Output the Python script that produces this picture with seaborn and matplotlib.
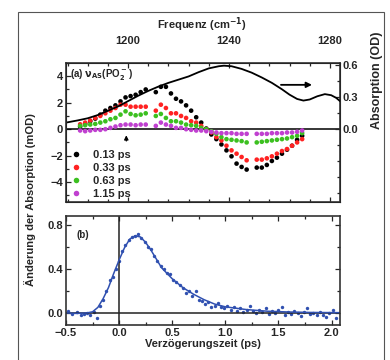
"""Transient IR spectra (a) and kinetics trace (b), Verzoegerungszeit plot."""

import numpy as np
import pandas as pd
import matplotlib
matplotlib.use("Agg")
import matplotlib.pyplot as plt
from matplotlib.ticker import MultipleLocator
from matplotlib.patches import Rectangle
import seaborn as sns

# --- panel (a): transient spectra, mOD ---
freq = [1181, 1183, 1185, 1187, 1189, 1191, 1193, 1195, 1197, 1199, 1201, 1203, 1205, 1207,
        1211, 1213, 1215, 1217, 1219, 1221, 1223, 1225, 1227, 1229, 1231, 1233, 1235, 1237,
        1239, 1241, 1243, 1245, 1247,
        1251, 1253, 1255, 1257, 1259, 1261, 1263, 1265, 1267, 1269]

dA_013 = [0.2, 0.4, 0.6, 0.8, 1.1, 1.4, 1.6, 1.8, 2.1, 2.4, 2.5, 2.6, 2.8, 3.0,
          2.8, 3.2, 3.2, 2.7, 2.3, 2.1, 1.8, 1.4, 0.9, 0.5, 0.05, -0.4, -0.75, -1.15,
          -1.6, -2.05, -2.6, -2.85, -3.05,
          -2.9, -2.9, -2.7, -2.4, -2.15, -1.85, -1.55, -1.25, -0.8, -0.5]
dA_033 = [0.37, 0.5, 0.65, 0.85, 1.0, 1.2, 1.4, 1.6, 1.85, 1.85, 1.7, 1.7, 1.7, 1.7,
          1.4, 1.85, 1.6, 1.2, 1.2, 1.0, 0.85, 0.6, 0.5, 0.25, 0.0, -0.25, -0.6, -0.85,
          -1.25, -1.6, -1.85, -2.1, -2.35,
          -2.3, -2.3, -2.2, -2.05, -1.85, -1.65, -1.5, -1.25, -1.0, -0.75]
dA_063 = [0.25, 0.3, 0.35, 0.4, 0.5, 0.6, 0.75, 0.85, 1.1, 1.35, 1.15, 1.05, 1.1, 1.2,
          1.0, 1.15, 0.85, 0.6, 0.6, 0.5, 0.35, 0.3, 0.25, 0.1, 0.0, -0.15, -0.35, -0.6,
          -0.75, -0.8, -0.85, -0.9, -1.0,
          -1.0, -0.95, -0.9, -0.85, -0.8, -0.75, -0.7, -0.6, -0.5, -0.3]
dA_115 = [-0.1, -0.15, -0.1, -0.05, -0.05, 0.0, 0.1, 0.2, 0.3, 0.35, 0.35, 0.3, 0.35, 0.35,
          0.25, 0.5, 0.35, 0.25, 0.1, 0.1, 0.0, -0.05, -0.1, -0.1, -0.15, -0.2, -0.25, -0.3,
          -0.3, -0.3, -0.35, -0.35, -0.35,
          -0.35, -0.35, -0.35, -0.3, -0.3, -0.3, -0.25, -0.25, -0.2, -0.1]
delays = ["0.13 ps", "0.33 ps", "0.63 ps", "1.15 ps"]
delay_colors = ["black", "#ff2222", "#3cc020", "#c040d0"]

# stationary absorption spectrum (OD, right axis)
abs_freq = [1175.5, 1180, 1184, 1188, 1192, 1196, 1200, 1204, 1208, 1212, 1216, 1220,
            1224, 1228, 1232, 1236, 1238, 1241, 1245, 1249, 1253, 1257, 1261, 1264,
            1267, 1269.5, 1272, 1275, 1278, 1280.5, 1282.5, 1284]
abs_od = [0.06, 0.08, 0.10, 0.13, 0.17, 0.21, 0.26, 0.31, 0.355, 0.395, 0.43, 0.46,
          0.49, 0.53, 0.565, 0.585, 0.59, 0.585, 0.56, 0.525, 0.48, 0.43, 0.37, 0.32,
          0.28, 0.265, 0.275, 0.305, 0.325, 0.315, 0.29, 0.26]

# --- panel (b): kinetics ---
t_ps = [-0.48, -0.44, -0.40, -0.36, -0.33, -0.30, -0.27, -0.24, -0.21, -0.18, -0.15, -0.12,
        -0.09, -0.06, -0.03, 0.00, 0.03, 0.06, 0.09, 0.12, 0.15, 0.18, 0.21, 0.24, 0.27,
        0.30, 0.33, 0.36, 0.39, 0.42, 0.45, 0.48, 0.51, 0.54, 0.57, 0.60, 0.63, 0.66, 0.69,
        0.72, 0.75, 0.78, 0.81, 0.84, 0.87, 0.90, 0.93, 0.96, 0.99, 1.02, 1.05, 1.08, 1.11,
        1.14, 1.17, 1.20, 1.23, 1.26, 1.29, 1.32, 1.35, 1.38, 1.41, 1.44, 1.47, 1.50, 1.53,
        1.56, 1.59, 1.62, 1.65, 1.68, 1.71, 1.74, 1.77, 1.80, 1.83, 1.86, 1.89, 1.92, 1.95,
        1.98, 2.01, 2.04]
kin = [0.02, -0.01, 0.01, -0.02, -0.01, 0.00, -0.02, 0.01, -0.05, 0.06, 0.12, 0.20,
       0.30, 0.33, 0.40, 0.47, 0.56, 0.62, 0.66, 0.69, 0.70, 0.72, 0.68, 0.64, 0.60,
       0.58, 0.52, 0.47, 0.43, 0.40, 0.36, 0.35, 0.30, 0.28, 0.25, 0.23, 0.18, 0.20, 0.15,
       0.20, 0.12, 0.11, 0.08, 0.10, 0.05, 0.06, 0.09, 0.05, 0.04, 0.06, 0.03, 0.05, 0.02,
       0.04, 0.01, 0.03, 0.06, 0.02, 0.00, 0.03, 0.01, 0.04, -0.01, 0.02, 0.00, 0.03, 0.05,
       -0.02, 0.01, -0.01, 0.02, 0.00, -0.03, 0.01, 0.04, -0.01, 0.00, -0.02, 0.01, -0.02,
       -0.04, 0.00, 0.03, -0.05]
fit_t = [-0.5, -0.4, -0.3, -0.25, -0.2, -0.15, -0.1, -0.05, 0.0, 0.05, 0.1, 0.15, 0.2,
         0.25, 0.3, 0.35, 0.4, 0.5, 0.6, 0.7, 0.8, 0.9, 1.0, 1.2, 1.4, 1.6, 1.8, 2.1]
fit_val = [0.0, -0.005, 0.0, 0.01, 0.05, 0.13, 0.23, 0.36, 0.48, 0.59, 0.67, 0.70, 0.69,
           0.64, 0.57, 0.49, 0.41, 0.31, 0.23, 0.17, 0.12, 0.08, 0.055, 0.03, 0.015, 0.008,
           0.004, 0.002]
blue = "#3050b0"


def style_axis(ax):
    ax.tick_params(which="both", direction="in", top=True, right=True, width=0.9,
                   labelsize=8, pad=2)
    ax.tick_params(which="major", length=3.5)
    ax.tick_params(which="minor", length=2)
    for sp in ax.spines.values():
        sp.set_linewidth(1.2)
        sp.set_color("#333333")


sns.set_style("ticks")
plt.rcParams["font.family"] = ["Liberation Sans", "DejaVu Sans"]
plt.rcParams["font.weight"] = "bold"
plt.rcParams["mathtext.default"] = "bf"

fig = plt.figure(figsize=(3.9, 3.6), dpi=100)
fig.patches.append(Rectangle((18 / 390, -0.02), 366 / 390, 348 / 360 + 0.02,
                             transform=fig.transFigure, fill=False,
                             edgecolor="#555555", lw=0.8))

# panel (a)
ax1 = fig.add_axes([66 / 390, 158 / 360, 274 / 390, 139 / 360])
rows = []
for name, vals in zip(delays, [dA_013, dA_033, dA_063, dA_115]):
    rows.append(pd.DataFrame({"freq": freq, "dA": vals, "delay": name}))
df = pd.concat(rows, ignore_index=True)
sns.scatterplot(data=df, x="freq", y="dA", hue="delay", palette=delay_colors,
                s=11, linewidth=0, ax=ax1, zorder=3)
ax1.axhline(0, color="black", lw=1.1, zorder=2)
ax1.set_xlim(1175.4, 1284)
ax1.xaxis.set_major_locator(MultipleLocator(40))
ax1.xaxis.set_minor_locator(MultipleLocator(8))
ax1.yaxis.set_minor_locator(MultipleLocator(1))
style_axis(ax1)
ax1.tick_params(axis="x", labelbottom=False, labeltop=True, pad=12)
ax1.set_yticks([-4, -2, 0, 2, 4])
ax1.set_ylim(-5.5, 5.0)
ax1.set_xlabel("")
ax1.set_ylabel("")
leg = ax1.legend(loc="lower left", bbox_to_anchor=(-0.035, -0.04), frameon=False,
                 fontsize=8, handletextpad=0.5, labelspacing=0.25, borderpad=0.3,
                 markerscale=1.2)
for txt in leg.get_texts():
    txt.set_fontweight("bold")
ax1.text(0.015, 0.9, r"(a) $\nu_{AS}$(PO$_2^-$)", transform=ax1.transAxes,
         fontsize=7, fontweight="bold")
ax1.annotate("", xy=(1199.3, -0.25), xytext=(1199.3, -1.1),
             arrowprops=dict(arrowstyle="-|>", color="black", lw=0.9, mutation_scale=6))
ax1.annotate("", xy=(1274, 3.35), xytext=(1259.5, 3.35),
             arrowprops=dict(arrowstyle="-|>", color="black", lw=1.3, mutation_scale=8))

ax1r = ax1.twinx()
sns.lineplot(x=abs_freq, y=abs_od, color="black", lw=1.3, ax=ax1r)
ax1r.yaxis.set_minor_locator(MultipleLocator(0.15))
ax1r.set_yticks([0.0, 0.3, 0.6])
ax1r.set_yticklabels(["0.0", "0.3", "0.6"])
ax1r.set_ylim(-0.68, 0.615)
ax1r.tick_params(which="both", direction="in", labelsize=8, pad=2, width=0.9)
ax1r.tick_params(which="major", length=3.5)
ax1r.tick_params(which="minor", length=2)

# panel (b)
ax2 = fig.add_axes([66 / 390, 35 / 360, 274 / 390, 109 / 360])
sns.scatterplot(x=t_ps, y=kin, color=blue, marker="o", s=6, linewidth=0, ax=ax2)
sns.lineplot(x=fit_t, y=fit_val, color=blue, lw=1.1, ax=ax2)
ax2.axhline(0, color="#222222", lw=1.1, zorder=1)
ax2.axvline(0, color="#222222", lw=1.1, zorder=1)
ax2.xaxis.set_major_locator(MultipleLocator(0.5))
ax2.xaxis.set_minor_locator(MultipleLocator(0.25))
ax2.yaxis.set_minor_locator(MultipleLocator(0.2))
ax2.set_yticks([0.0, 0.4, 0.8])
ax2.set_xlim(-0.5, 2.08)
ax2.set_ylim(-0.11, 0.88)
style_axis(ax2)
ax2.set_xlabel("Verzögerungszeit (ps)", fontsize=8, fontweight="bold", labelpad=1)
ax2.text(0.04, 0.8, "(b)", transform=ax2.transAxes, fontsize=7, fontweight="bold")

# shared labels
fig.text(202 / 390, 1 - 25 / 360, r"Frequenz (cm$^{-1}$)", ha="center", va="center",
         fontsize=8, fontweight="bold")
fig.text(30 / 390, 1 - 200 / 360, "Änderung der Absorption (mOD)", rotation=90,
         ha="center", va="center", fontsize=8, fontweight="bold")
fig.text(377 / 390, 1 - 80 / 360, "Absorption (OD)", rotation=90,
         ha="center", va="center", fontsize=9, fontweight="bold")

fig.savefig("out.png", dpi=100)
